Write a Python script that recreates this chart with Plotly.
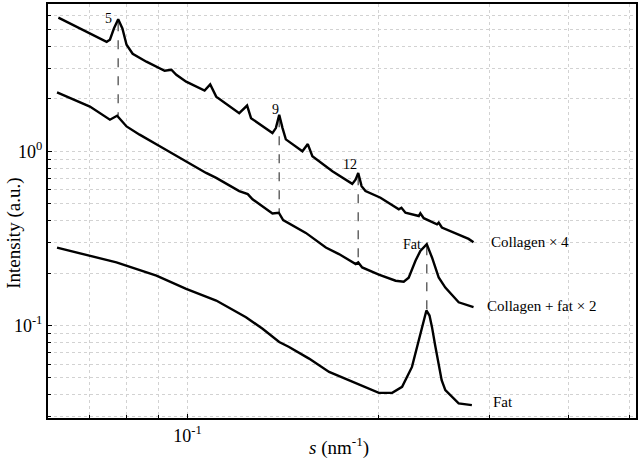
import math
import plotly.graph_objects as go

# Collagen x 4 (top curve)
s_top = [0.0625, 0.0745, 0.0754, 0.0765, 0.0777, 0.0789, 0.0801, 0.0819, 0.0861, 0.092,
         0.0943, 0.096, 0.0995, 0.1064, 0.1086, 0.111, 0.1207, 0.1242, 0.126, 0.1362,
         0.1379, 0.1396, 0.1413, 0.143, 0.1519, 0.1549, 0.1575, 0.1694, 0.1821, 0.1844,
         0.1861, 0.1884, 0.1911, 0.2018, 0.2157, 0.2178, 0.221, 0.232, 0.2333, 0.2362,
         0.2479, 0.2494, 0.2523, 0.2682, 0.2781, 0.2831]
i_top = [5.85, 4.25, 4.37, 5.07, 5.73, 5.07, 4.09, 3.63, 3.27, 2.90,
         2.94, 2.75, 2.51, 2.23, 2.42, 2.06, 1.655, 1.83, 1.55, 1.272,
         1.359, 1.62, 1.359, 1.171, 1.0, 1.10, 0.936, 0.768, 0.650, 0.689,
         0.751, 0.631, 0.591, 0.541, 0.464, 0.474, 0.444, 0.425, 0.441, 0.413,
         0.381, 0.389, 0.365, 0.334, 0.314, 0.300]

# Collagen + fat x 2 (middle curve)
s_mid = [0.0622, 0.0701, 0.0754, 0.0774, 0.0801, 0.084, 0.0904, 0.0971, 0.107, 0.111,
         0.1207, 0.1245, 0.1267, 0.1362, 0.1394, 0.1416, 0.1538, 0.1654, 0.1735, 0.1844,
         0.1861, 0.1888, 0.2006, 0.2132, 0.2196, 0.2236, 0.2292, 0.2333, 0.2388, 0.2434,
         0.2494, 0.2555, 0.2682, 0.2831]
i_mid = [2.18, 1.807, 1.518, 1.60, 1.389, 1.246, 1.068, 0.916, 0.751, 0.704,
         0.591, 0.568, 0.530, 0.44, 0.444, 0.403, 0.340, 0.280, 0.257, 0.225,
         0.230, 0.2154, 0.1956, 0.1807, 0.1784, 0.188, 0.235, 0.268, 0.293, 0.2456,
         0.1888, 0.165, 0.1358, 0.1276]

# Fat (bottom curve)
s_bot = [0.0622, 0.0701, 0.0772, 0.0893, 0.0995, 0.111, 0.1237, 0.1314, 0.1396, 0.1447,
         0.1556, 0.1674, 0.1844, 0.2006, 0.2106, 0.2183, 0.2263, 0.2298, 0.2333, 0.2362,
         0.2385, 0.2412, 0.2434, 0.2462, 0.2494, 0.2521, 0.2555, 0.2682, 0.2814]
i_bot = [0.280, 0.251, 0.230, 0.193, 0.162, 0.139, 0.1115, 0.0957, 0.0803, 0.0752,
         0.0645, 0.0541, 0.0464, 0.0410, 0.0410, 0.0444, 0.0578, 0.0720, 0.0897, 0.1096,
         0.1219, 0.114, 0.0978, 0.0769, 0.0605, 0.0485, 0.0425, 0.0357, 0.0349]

# dashed guides linking peaks
dash_s = [0.0777, 0.1396, 0.1861, 0.2388]
dash_hi = [5.5, 1.55, 0.72, 0.285]
dash_lo = [1.60, 0.444, 0.230, 0.122]

peak_labels = ["5", "9", "12", "Fat"]
peak_s = [0.0751, 0.1376, 0.1809, 0.2265]
peak_i = [5.79, 1.74, 0.837, 0.2921]

curve_names = ["Collagen × 4", "Collagen + fat × 2", "Fat"]
name_s = [0.2990, 0.2957, 0.3022]
name_i = [0.302, 0.130, 0.0363]

x_major = [0.1]
x_major_text = ["10<sup>-1</sup>"]
x_minor = [0.06, 0.07, 0.08, 0.09, 0.2, 0.3, 0.4, 0.5]
y_major = [0.1, 1]
y_major_text = ["10<sup>-1</sup>", "10<sup>0</sup>"]
y_minor = [0.03, 0.04, 0.05, 0.06, 0.07, 0.08, 0.09, 0.2, 0.3, 0.4, 0.5, 0.6, 0.7,
           0.8, 0.9, 2, 3, 4, 5, 6]

FONT = "Liberation Serif, Times New Roman, serif"

fig = go.Figure()

for s0, hi, lo in zip(dash_s, dash_hi, dash_lo):
    fig.add_trace(go.Scatter(x=[s0, s0], y=[hi, lo], mode="lines",
                             line=dict(color="#666666", width=1.5, dash="dash"),
                             showlegend=False, hoverinfo="skip"))

for sx, iy in [(s_top, i_top), (s_mid, i_mid), (s_bot, i_bot)]:
    fig.add_trace(go.Scatter(x=sx, y=iy, mode="lines",
                             line=dict(color="black", width=2.4),
                             showlegend=False))

for t, sx, iy in zip(peak_labels, peak_s, peak_i):
    fig.add_annotation(x=math.log10(sx), y=math.log10(iy), text=t, showarrow=False,
                       xanchor="center", yanchor="middle",
                       font=dict(family=FONT, size=14, color="black"))

for t, sx, iy in zip(curve_names, name_s, name_i):
    fig.add_annotation(x=math.log10(sx), y=math.log10(iy), text=t, showarrow=False,
                       xanchor="left", yanchor="middle",
                       font=dict(family=FONT, size=15, color="black"))

# axis titles
fig.add_annotation(xref="paper", yref="paper", x=-0.058, y=0.447, text="Intensity (a.u.)",
                   textangle=-90, showarrow=False, xanchor="center", yanchor="middle",
                   font=dict(family=FONT, size=19, color="black"))
fig.add_annotation(xref="paper", yref="paper", x=0.495, y=-0.07,
                   text="<i>s</i> (nm<sup>-1</sup>)", showarrow=False,
                   xanchor="center", yanchor="middle",
                   font=dict(family=FONT, size=19, color="black"))

grid_style = dict(showgrid=True, gridcolor="#d2d2d2", griddash="dot", gridwidth=1)
axis_common = dict(
    showline=True, linecolor="black", linewidth=2, mirror=True,
    ticks="inside", ticklen=4, tickcolor="black", tickwidth=1,
    zeroline=False, tickfont=dict(family=FONT, size=18, color="black"),
    **grid_style,
)

fig.update_xaxes(type="log", range=[-1.2205, -0.2913], tickmode="array",
                 tickvals=x_major, ticktext=x_major_text,
                 minor=dict(tickmode="array", tickvals=x_minor, ticks="inside",
                            ticklen=3, tickcolor="black", **grid_style),
                 **axis_common)
fig.update_yaxes(type="log", range=[-1.5314, 0.8457], tickmode="array",
                 tickvals=y_major, ticktext=y_major_text,
                 minor=dict(tickmode="array", tickvals=y_minor, ticks="inside",
                            ticklen=3, tickcolor="black", **grid_style),
                 **axis_common)

fig.update_layout(
    width=640, height=463,
    margin=dict(l=48, r=2, t=2, b=45),
    plot_bgcolor="white", paper_bgcolor="white",
    showlegend=False,
)

fig.write_html("out.html", config={"displayModeBar": False},
               post_script="document.body.style.margin='0px';")
